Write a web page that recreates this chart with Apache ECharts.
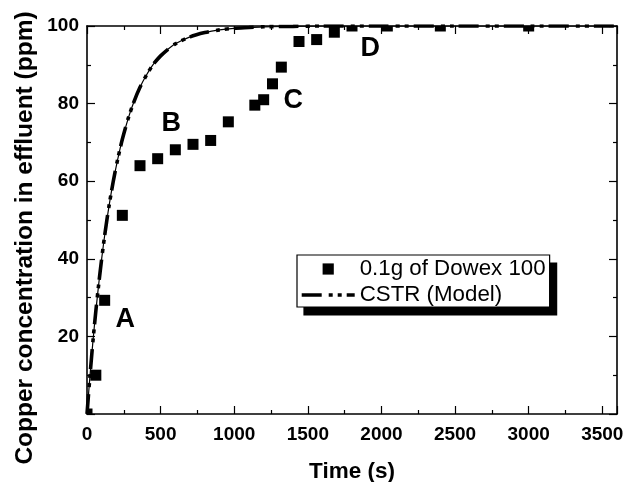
<!DOCTYPE html>
<html>
<head>
<meta charset="utf-8">
<script src="https://cdn.jsdelivr.net/npm/echarts@6/dist/echarts.min.js"></script>
<style>
html,body{margin:0;padding:0;background:#fff;}
#chart{width:627px;height:482px;}
</style>
</head>
<body>
<div id="chart"></div>
<script>
// Experimental data: 0.1g of Dowex 100
var expTime = [0, 60, 120, 240, 360, 480, 600, 720, 840, 960, 1140, 1200, 1260, 1320, 1440, 1560, 1680, 1800, 2040, 2400, 3000];
var expConc = [0, 10, 29.3, 51.2, 64, 65.8, 68.1, 69.5, 70.5, 75.3, 79.6, 81, 85.1, 89.4, 96, 96.5, 98.4, 100, 100, 100, 100];

// CSTR model curve
var modelTime = [0, 20, 40, 60, 80, 100, 120, 150, 180, 210, 240, 280, 320, 360, 400, 450, 500, 550, 600, 700, 800, 900, 1000, 1100, 1200, 1400, 1600, 2000, 2500, 3000, 3600];
var modelConc = [0, 9.7, 18.6, 26.5, 33.6, 40.1, 46.0, 53.7, 60.3, 65.9, 70.8, 76.2, 80.6, 84.2, 87.1, 90.1, 92.3, 94.0, 95.4, 97.2, 98.3, 99.0, 99.4, 99.6, 99.8, 99.9, 100, 100, 100, 100, 100];

// Annotation letters
var noteLabels = ['A', 'B', 'C', 'D'];
var noteTime = [260, 573, 1401, 1924];
var noteConc = [24.4, 74.9, 80.7, 94.3];

var xTicks = {min: 0, max: 3600, interval: 500};
var yTicks = {min: 0, max: 100, interval: 20};

var seriesNames = ['0.1g of Dowex 100', 'CSTR (Model)'];

var FONT = '"Liberation Sans", Arial, Helvetica, sans-serif';

function zip(a, b) { return a.map(function (v, i) { return [v, b[i]]; }); }

var chart = echarts.init(document.getElementById('chart'), null, {renderer: 'canvas'});

var axisCommon = {
  axisLine: {show: true, onZero: false, lineStyle: {color: '#000', width: 1.6}},
  axisTick: {show: true, inside: true, length: 8, lineStyle: {color: '#000', width: 1.2}},
  minorTick: {show: true, splitNumber: 2, length: 4, lineStyle: {color: '#000', width: 1.2}},
  splitLine: {show: false}
};

var labelStyle = {fontFamily: FONT, fontSize: 19, fontWeight: 700, color: '#000'};

var legendBase = {
  orient: 'vertical',
  selectedMode: false,
  itemWidth: 53, itemHeight: 14, itemGap: 4,
  padding: [3, 4, 1, 3],
  borderColor: '#000', borderWidth: 1.2,
  lineStyle: {width: 3.4},
  textStyle: {fontFamily: FONT, fontSize: 22.3, color: '#000'},
  data: [seriesNames[0], seriesNames[1]]
};

var option = {
  backgroundColor: '#fff',
  animation: false,
  grid: {left: 87, right: 10, top: 26, bottom: 68, containLabel: false, outerBoundsMode: 'none'},
  legend: [
    // black offset copy acting as the drop shadow
    Object.assign({}, legendBase, {left: 304, top: 263, backgroundColor: '#000', z: 3}),
    Object.assign({}, legendBase, {left: 297, top: 255, backgroundColor: '#fff', z: 4})
  ],
  graphic: [{
    type: 'text', x: 25, y: 238, rotation: Math.PI / 2,
    style: {text: 'Copper concentration in effluent (ppm)', font: 'bold 24.5px ' + FONT, fill: '#000', align: 'center', verticalAlign: 'middle'}
  }],
  xAxis: [
    Object.assign({}, axisCommon, {
      type: 'value', position: 'bottom', min: xTicks.min, max: xTicks.max, interval: xTicks.interval,
      name: 'Time (s)', nameLocation: 'middle', nameGap: 46,
      nameTextStyle: {fontFamily: FONT, fontSize: 22.5, fontWeight: 'bold', color: '#000'},
      axisLabel: Object.assign({show: true, margin: 11, showMaxLabel: false,
        formatter: function (v) { return String(v); }}, labelStyle)
    }),
    Object.assign({}, axisCommon, {
      type: 'value', position: 'top', min: xTicks.min, max: xTicks.max, interval: xTicks.interval,
      axisLabel: {show: false}
    })
  ],
  yAxis: [
    Object.assign({}, axisCommon, {
      type: 'value', position: 'left', min: yTicks.min, max: yTicks.max, interval: yTicks.interval,
      axisLabel: Object.assign({show: true, margin: 8,
        formatter: function (v) { return v === 0 ? '' : String(v); }}, labelStyle)
    }),
    Object.assign({}, axisCommon, {
      type: 'value', position: 'right', min: yTicks.min, max: yTicks.max, interval: yTicks.interval,
      axisLabel: {show: false}
    })
  ],
  series: [
    {
      name: 'model-thin', type: 'line', xAxisIndex: 0, yAxisIndex: 0,
      data: zip(modelTime, modelConc), showSymbol: false, symbol: 'none', smooth: 0.3,
      lineStyle: {color: '#000', width: 1.2}, z: 2, silent: true
    },
    {
      name: seriesNames[1], type: 'line', xAxisIndex: 0, yAxisIndex: 0,
      data: zip(modelTime, modelConc), showSymbol: false, symbol: 'none', smooth: 0.3,
      lineStyle: {color: '#000', width: 3.6, type: [20, 7, 4, 5, 4, 5]},
      itemStyle: {color: 'rgba(0,0,0,0)'}, z: 3, silent: true
    },
    {
      // legend entry for the square markers
      name: seriesNames[0], type: 'line', data: [], symbol: 'rect', symbolSize: 11,
      lineStyle: {width: 0, opacity: 0}, itemStyle: {color: '#000'}, silent: true
    },
    {
      name: 'squares', type: 'custom', xAxisIndex: 0, yAxisIndex: 0,
      data: zip(expTime, expConc), itemStyle: {color: '#000'}, z: 4, silent: true,
      renderItem: function (params, api) {
        var p = api.coord([api.value(0), api.value(1)]);
        var s = 11;
        var cs = params.coordSys;
        var r = echarts.graphic.clipRectByRect(
          {x: p[0] - s / 2, y: p[1] - s / 2, width: s, height: s},
          {x: cs.x, y: cs.y, width: cs.width, height: cs.height});
        if (!r) return null;
        return {type: 'rect', shape: r, style: {fill: '#000'}};
      }
    },
    {
      name: 'notes', type: 'custom', xAxisIndex: 0, yAxisIndex: 0,
      data: noteLabels.map(function (n, i) { return [noteTime[i], noteConc[i]]; }),
      z: 5, silent: true,
      renderItem: function (params, api) {
        var p = api.coord([api.value(0), api.value(1)]);
        return {type: 'text', x: p[0], y: p[1], style: {
          text: noteLabels[params.dataIndex], font: 'bold 27px ' + FONT, fill: '#000',
          align: 'center', verticalAlign: 'middle'}};
      }
    }
  ]
};
chart.setOption(option);
</script>
</body>
</html>
